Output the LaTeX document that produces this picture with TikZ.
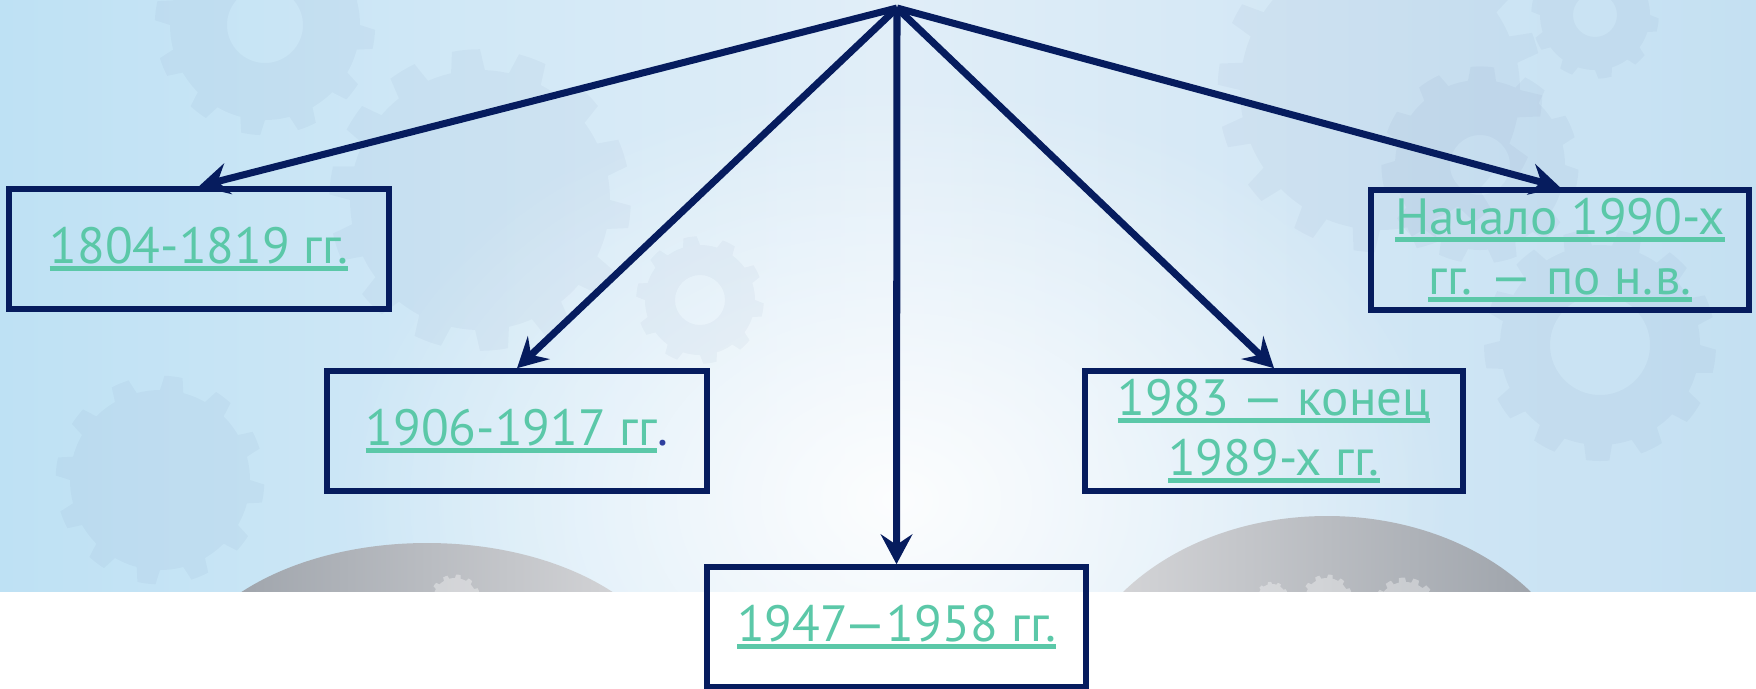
\documentclass[tikz,border=0pt]{standalone}
\usepackage{fontspec}
\setmainfont{PT Sans}
\usetikzlibrary{arrows.meta,fadings}
\definecolor{navy}{RGB}{6,28,94}
\definecolor{teal}{RGB}{91,200,168}
\definecolor{dotblue}{RGB}{46,63,158}
\definecolor{edgeL}{RGB}{170,206,236}
\definecolor{cyanL}{RGB}{190,225,244}
\definecolor{bgmid}{RGB}{225,238,248}
\definecolor{cyanR}{RGB}{196,224,242}
\definecolor{edgeR}{RGB}{168,200,230}
\definecolor{domeD}{RGB}{152,158,166}
\definecolor{domeL}{RGB}{218,218,220}
\pgfdeclarehorizontalshading{bgh}{100bp}{color(0bp)=(edgeL); color(25bp)=(cyanL); color(50bp)=(bgmid); color(75bp)=(cyanR); color(100bp)=(edgeR)}
\tikzfading[name=myglow, inner color=transparent!0, outer color=transparent!100]
\newcommand\ulx[1]{\setbox0=\hbox{#1}\rlap{\rule[-2.2pt]{\wd0}{1.45pt}}\box0}
% gear: x, y, radius, teeth, hole radius
\newcommand\mygear[5]{%
  \fill[gearfill,even odd rule] plot[domain=0:360,samples=#4*12+1]
    ({#1+(#3+ifthenelse(sin(#4*\x)>0,0.16*#3,0))*cos(\x)},{#2+(#3+ifthenelse(sin(#4*\x)>0,0.16*#3,0))*sin(\x)}) -- cycle
    (#1,#2) circle[radius=#5];}
\tikzset{
  gearfill/.style={fill=navy,opacity=0.032},
  period/.style={draw=navy,line width=1.6pt,minimum width=#1,minimum height=120*0.1mm,
    inner sep=0pt,text=teal,font=\fontsize{14.5pt}{17pt}\selectfont,align=center},
  link/.style={draw=navy,line width=2pt,-{Stealth[length=8.5pt,width=9pt,inset=3pt]}}
}
\begin{document}
\begin{tikzpicture}[x=0.1mm,y=-0.1mm]
\useasboundingbox (0,0) rectangle (1756,688);
% background
\fill[white] (0,0) rectangle (1756,688);
\shade[shading=bgh] (0,0) rectangle (1756,591);
\fill[white,path fading=myglow,opacity=0.9] (896,500) ellipse [x radius=560,y radius=420];
\begin{scope}
  \clip (0,0) rectangle (1756,591);
  \mygear{265}{25}{95}{12}{38}
  \mygear{480}{200}{130}{14}{0}
  \mygear{700}{300}{55}{10}{25}
  \mygear{1380}{90}{140}{16}{0}
  \mygear{1595}{15}{55}{10}{22}
  \mygear{1480}{165}{85}{11}{30}
  \mygear{1600}{345}{100}{13}{50}
  \mygear{160}{480}{90}{12}{0}
  \shade[left color=domeD,right color=domeL] (427,693) ellipse [x radius=251,y radius=150];
  \shade[left color=domeL,right color=domeD] (1327,716) ellipse [x radius=260,y radius=200];
  \begin{scope}[gearfill/.style={fill=white,opacity=0.35}]
    \mygear{455}{600}{22}{12}{8}
    \mygear{1327}{600}{22}{12}{8}
    \mygear{1272}{598}{14}{10}{0}
    \mygear{1405}{610}{28}{14}{0}
  \end{scope}
\end{scope}
% nodes
\coordinate (top) at (897,8);
\node[period=380*0.1mm] (a) at (199,249) {\ulx{1804-1819 гг.}};
\node[period=380*0.1mm] (b) at (517,431) {\ulx{1906-1917 гг}{\color{dotblue}.}};
\node[period=379*0.1mm] (c) at (896.5,627) {\ulx{1947—1958 гг.}};
\node[period=378*0.1mm] (d) at (1274,431) {\ulx{1983 — конец}\\\ulx{1989-х гг.}};
\node[period=378*0.1mm] (e) at (1560,250) {\ulx{Начало 1990-х}\\\ulx{гг. — по н.в.}};
% connectors
\draw[link] (top) -- (a.north);
\draw[link] (top) -- (b.north);
\draw[link] (top) -- (c.north);
\draw[link] (top) -- (d.north);
\draw[link] (top) -- (e.north);
\end{tikzpicture}
\end{document}
